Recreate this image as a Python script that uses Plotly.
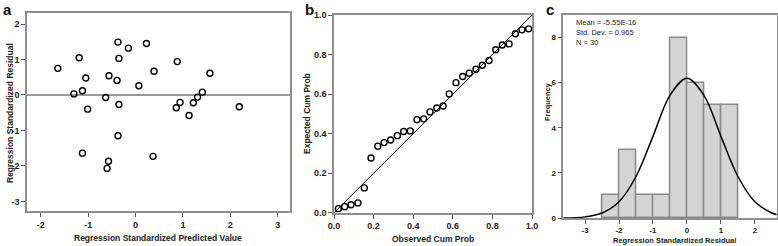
import plotly.graph_objects as go

# ---------------- data ----------------
# panel a: residuals vs predicted
pred = [-1.64, -1.19, -1.30, -1.12, -1.05, -1.01, -1.12, -0.63, -0.56, -0.57,
        -0.60, -0.37, -0.35, -0.39, -0.35, -0.37, -0.15, 0.07, 0.23, 0.39,
        0.37, 0.88, 0.86, 0.94, 1.13, 1.22, 1.31, 1.41, 1.57, 2.19]
resid = [0.75, 1.05, 0.03, 0.12, 0.48, -0.40, -1.64, -0.07, 0.54, -1.87,
         -2.07, 1.49, 1.03, 0.41, -0.27, -1.15, 1.32, 0.26, 1.45, 0.67,
         -1.73, 0.94, -0.36, -0.21, -0.58, -0.22, -0.06, 0.08, 0.61, -0.33]
a_xticks = [-2, -1, 0, 1, 2, 3]
a_xlabels = ["-2", "-1", "0", "1", "2", "3"]
a_yticks = [-3, -2, -1, 0, 1, 2]
a_ylabels = ["-3", "-2", "-1", "0", "1", "2"]

# panel b: P-P plot
obs_cum = [0.022, 0.054, 0.086, 0.121, 0.153, 0.187, 0.221, 0.253, 0.286, 0.320,
           0.352, 0.385, 0.419, 0.453, 0.485, 0.519, 0.551, 0.582, 0.616, 0.650,
           0.683, 0.717, 0.749, 0.783, 0.817, 0.850, 0.884, 0.916, 0.949, 0.983]
exp_cum = [0.021, 0.031, 0.041, 0.050, 0.126, 0.277, 0.337, 0.355, 0.368, 0.390,
           0.411, 0.414, 0.471, 0.475, 0.510, 0.530, 0.540, 0.601, 0.658, 0.689,
           0.706, 0.726, 0.746, 0.770, 0.824, 0.848, 0.854, 0.905, 0.925, 0.930]
diag = [0.0, 1.0]
b_ticks = [0, 0.2, 0.4, 0.6, 0.8, 1.0]
b_labels = ["0.0", "0.2", "0.4", "0.6", "0.8", "1.0"]

# panel c: histogram of residuals
bin_left = [-2.5, -2.0, -1.5, -1.0, -0.5, 0.0, 0.5, 1.0]
bin_width = 0.5
counts = [1, 3, 1, 1, 8, 6, 5, 5]
curve_x = [-3.64, -3.0, -2.5, -2.0, -1.5, -1.0, -0.5, 0.0, 0.5, 1.0, 1.5, 2.0, 2.5, 2.64]
curve_y = [0.005, 0.05, 0.22, 0.72, 1.84, 3.62, 5.44, 6.2, 5.44, 3.62, 1.84, 0.72, 0.22, 0.15]
c_xticks = [-3, -2, -1, 0, 1, 2]
c_xlabels = ["-3", "-2", "-1", "0", "1", "2"]
c_yticks = [0, 2, 4, 6, 8]
stats_text = ["Mean = -5.55E-16", "Std. Dev. = 0.965", "N = 30"]

titles = {
    "a_x": "Regression Standardized Predicted Value",
    "a_y": "Regression Standardized Residual",
    "b_x": "Observed Cum Prob",
    "b_y": "Expected Cum Prob",
    "c_x": "Regression Standardized Residual",
    "c_y": "Frequency",
}

# ---------------- figure ----------------
W, H = 778, 246
FONT = "Liberation Sans, Arial, sans-serif"
FRAME = "#8f8f8f"

def px_x(a, b):
    return [a / W, b / W]

def px_y(top, bottom):
    return [1 - bottom / H, 1 - top / H]

fig = go.Figure()

marker = dict(symbol="circle-open", size=6, color="black", line=dict(width=1.4, color="black"))

fig.add_trace(go.Scatter(x=pred, y=resid, mode="markers", marker=marker,
                         xaxis="x", yaxis="y", showlegend=False))

fig.add_trace(go.Scatter(x=diag, y=diag, mode="lines", line=dict(color="black", width=1),
                         xaxis="x2", yaxis="y2", showlegend=False))
fig.add_trace(go.Scatter(x=obs_cum, y=exp_cum, mode="markers", marker=marker,
                         xaxis="x2", yaxis="y2", showlegend=False))

centers = [b + bin_width / 2 for b in bin_left]
fig.add_trace(go.Bar(x=centers, y=counts, width=bin_width,
                     marker=dict(color="#d4d4d4", line=dict(color="#8a8a8a", width=1.5)),
                     xaxis="x3", yaxis="y3", showlegend=False))
fig.add_trace(go.Scatter(x=curve_x, y=curve_y, mode="lines", line=dict(color="black", width=1.5, shape="spline"),
                         xaxis="x3", yaxis="y3", showlegend=False))

tickfont = dict(family=FONT, size=9, color="#222", weight="bold")
tickfont_c = dict(family=FONT, size=8, color="#222", weight="bold")
titlefont = dict(family=FONT, size=8.5, color="#222", weight="bold")
titlefont_c = dict(family=FONT, size=7.5, color="#222", weight="bold")

common = dict(showline=True, linecolor=FRAME, linewidth=1.5, mirror=True,
              ticks="outside", ticklen=4, tickcolor="#555", tickwidth=1,
              showgrid=False, zeroline=False, automargin=False, tickmode="array")

fig.update_layout(
    width=W, height=H,
    margin=dict(l=0, r=0, t=0, b=0),
    paper_bgcolor="white", plot_bgcolor="white",
    bargap=0,
    xaxis=dict(domain=px_x(27, 290), range=[-2.29, 3.26], tickvals=a_xticks, ticktext=a_xlabels,
               tickfont=tickfont, anchor="y", **common),
    yaxis=dict(domain=px_y(13, 211), range=[-3.27, 2.31], tickvals=a_yticks, ticktext=a_ylabels,
               tickfont=tickfont, anchor="x",
               **{**common, "zeroline": True}, zerolinecolor="#999", zerolinewidth=1.5),
    xaxis2=dict(domain=px_x(334, 532), range=[0, 1], tickvals=b_ticks, ticktext=b_labels,
                tickfont=tickfont, anchor="y2", **common),
    yaxis2=dict(domain=px_y(15, 212.8), range=[0, 1], tickvals=b_ticks, ticktext=b_labels,
                tickfont=tickfont, anchor="x2", **common),
    xaxis3=dict(domain=px_x(563.3, 777), range=[-3.64, 2.65], tickvals=c_xticks, ticktext=c_xlabels,
                tickfont=tickfont_c, anchor="y3", **common),
    yaxis3=dict(domain=px_y(15, 218), range=[0, 9], tickvals=c_yticks,
                tickfont=tickfont_c, anchor="x3", **common),
)

def label(text, x, y, font, angle=0):
    fig.add_annotation(text=text, x=x / W, y=1 - y / H, xref="paper", yref="paper",
                       showarrow=False, xanchor="center", yanchor="middle", textangle=angle,
                       font=font)

# axis titles
label(titles["a_x"], 158, 238, titlefont)
label(titles["a_y"], 10, 113, titlefont, -90)
label(titles["b_x"], 433, 239, titlefont)
label(titles["b_y"], 307, 114, titlefont, -90)
label(titles["c_x"], 674, 240, titlefont_c)
label(titles["c_y"], 548, 102, titlefont_c, -90)

# panel letters
letter_font = dict(family=FONT, size=15, color="#111", weight="bold")
label("a", 7, 9, letter_font)
label("b", 309, 9, letter_font)
label("c", 550, 9.5, letter_font)

# stats box in panel c
fig.add_annotation(text="<br>".join(stats_text), x=574 / W, y=1 - 16 / H, xref="paper", yref="paper",
                   showarrow=False, xanchor="left", yanchor="top", align="left",
                   font=dict(family=FONT, size=7.5, color="#222"))

fig.write_html("out.html", config={"displayModeBar": False},
               post_script="document.body.style.margin='0px';")
